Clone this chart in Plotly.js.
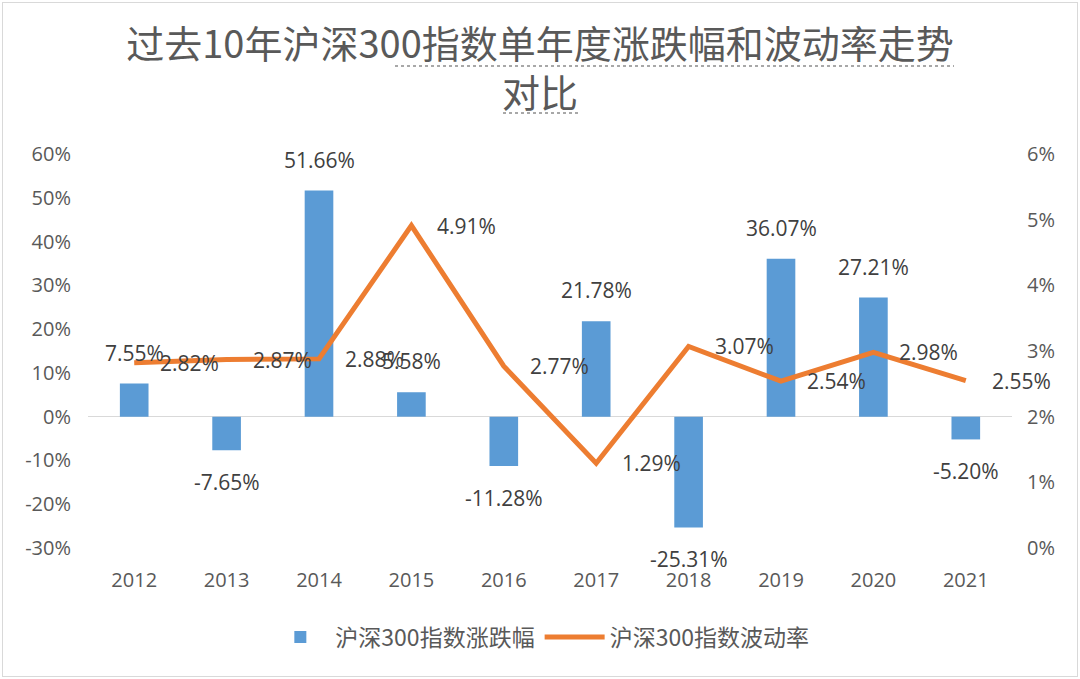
<!DOCTYPE html>
<html>
<head>
<meta charset="utf-8">
<script src="https://cdn.plot.ly/plotly-3.0.1.min.js"></script>
<style>
html,body{margin:0;padding:0;background:#fff;}
#wrap{position:relative;width:1080px;height:679px;}
#chart{width:1080px;height:679px;}
#frame{position:absolute;left:2px;top:2px;width:1074px;height:673px;border:1px solid #d9d9d9;pointer-events:none;}
</style>
</head>
<body>
<div id="wrap"><div id="chart"></div><div id="frame"></div></div>
<script>
const years = ['2012','2013','2014','2015','2016','2017','2018','2019','2020','2021'];
const changePct = [7.55, -7.65, 51.66, 5.58, -11.28, 21.78, -25.31, 36.07, 27.21, -5.20];
const volPct = [2.82, 2.87, 2.88, 4.91, 2.77, 1.29, 3.07, 2.54, 2.98, 2.55];
const leftTicks = [-30, -20, -10, 0, 10, 20, 30, 40, 50, 60];
const rightTicks = [0, 1, 2, 3, 4, 5, 6];
const titleText = '过去10年沪深300指数单年度涨跌幅和波动率走势<br>对比';
const barName = '沪深300指数涨跌幅';
const lineName = '沪深300指数波动率';

const FONT = '"Open Sans", "Noto Sans CJK SC", sans-serif';
const GREY = '#595959';

const traces = [
  {
    type: 'bar', x: years, y: changePct, name: barName,
    marker: {color: '#5B9BD5'}, width: 0.31, yaxis: 'y', hoverinfo: 'skip'
  },
  {
    type: 'scatter', mode: 'lines', x: years, y: volPct, name: lineName,
    line: {color: '#ED7D31', width: 5}, yaxis: 'y2', hoverinfo: 'skip'
  }
];

const annotations = [];
changePct.forEach((v, i) => {
  annotations.push({
    x: i, y: v, xref: 'x', yref: 'y', showarrow: false,
    text: v.toFixed(2) + '%', xanchor: 'center', yanchor: 'middle',
    yshift: v >= 0 ? 31 : -32,
    font: {family: FONT, size: 21, color: '#404040'}
  });
});
volPct.forEach((v, i) => {
  annotations.push({
    x: i, y: v, xref: 'x', yref: 'y2', showarrow: false,
    text: v.toFixed(2) + '%', xanchor: 'left', yanchor: 'middle',
    xshift: 24,
    font: {family: FONT, size: 21, color: '#404040'}
  });
});

const layout = {
  width: 1080, height: 679,
  paper_bgcolor: '#ffffff', plot_bgcolor: '#ffffff',
  margin: {l: 88, r: 68, t: 154, b: 131, autoexpand: false},
  font: {family: FONT, color: GREY},
  title: {
    text: titleText, x: 0.5, xanchor: 'center', xref: 'container',
    y: 0.915, yref: 'container', yanchor: 'top',
    font: {family: '"Noto Sans CJK SC", "Open Sans", sans-serif', size: 38, color: GREY}
  },
  showlegend: true,
  legend: {
    orientation: 'h', x: 0.489, xanchor: 'center', y: -0.226, yanchor: 'middle',
    font: {family: '"Noto Sans CJK SC", sans-serif', size: 23, color: GREY},
    itemwidth: 60, traceorder: 'normal'
  },
  xaxis: {
    type: 'category', range: [-0.5, 9.5], showgrid: false, showline: false, zeroline: false,
    tickfont: {family: FONT, size: 20, color: GREY}, ticks: '', tickangle: 0,
    ticklabelstandoff: 18, fixedrange: true
  },
  yaxis: {
    range: [-30, 60], tickvals: leftTicks, ticktext: leftTicks.map(t => t + '%'),
    showgrid: false, zeroline: true, zerolinecolor: '#d9d9d9', zerolinewidth: 1.5,
    showline: false, ticks: '', tickfont: {family: FONT, size: 20, color: GREY},
    ticklabelstandoff: 16, fixedrange: true
  },
  yaxis2: {
    range: [0, 6], overlaying: 'y', side: 'right',
    tickvals: rightTicks, ticktext: rightTicks.map(t => t + '%'),
    showgrid: false, zeroline: false, showline: false, ticks: '',
    tickfont: {family: FONT, size: 20, color: GREY},
    ticklabelstandoff: 14, fixedrange: true
  },
  annotations: annotations,
  shapes: [
    {type: 'line', xref: 'paper', yref: 'paper', x0: (395-88)/924, x1: (954-88)/924,
     y0: (548-66)/394, y1: (548-66)/394, line: {color: '#8c8c8c', width: 1.5, dash: 'dot'}},
    {type: 'line', xref: 'paper', yref: 'paper', x0: (503-88)/924, x1: (578-88)/924,
     y0: (548-113)/394, y1: (548-113)/394, line: {color: '#8c8c8c', width: 1.5, dash: 'dot'}}
  ]
};

Plotly.newPlot('chart', traces, layout, {displayModeBar: false, staticPlot: true});
</script>
</body>
</html>
